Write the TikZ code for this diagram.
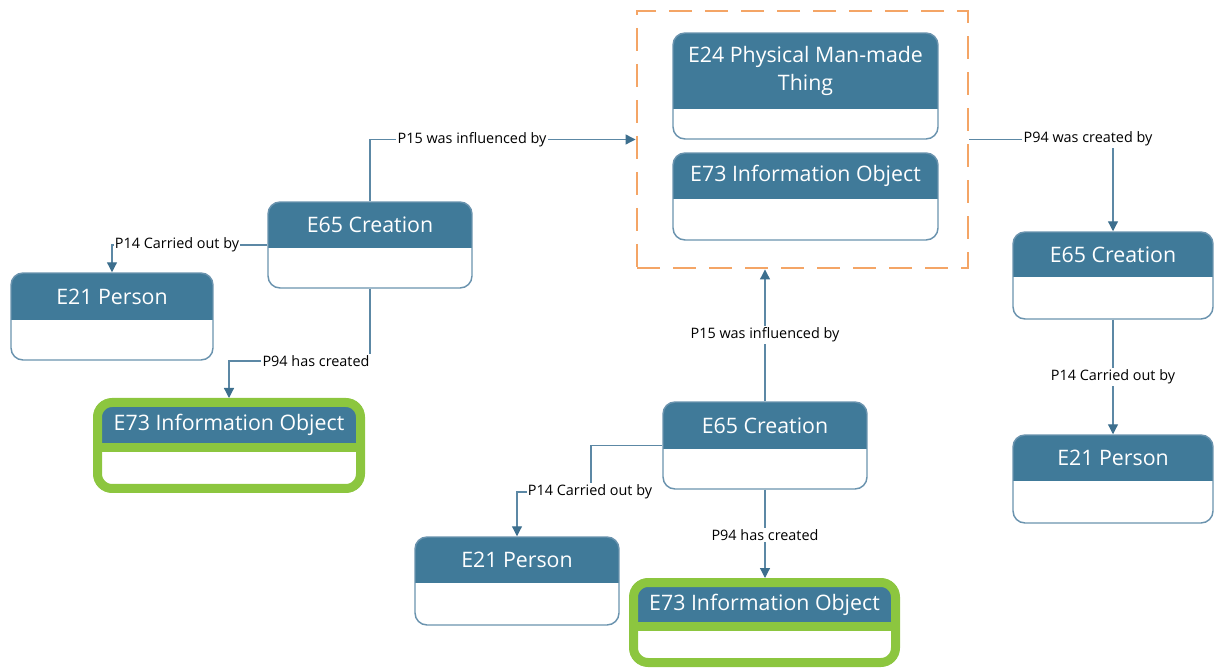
\documentclass[tikz,border=0pt]{standalone}
\usepackage{fontspec}
\setmainfont{Open Sans}
\usetikzlibrary{arrows.meta,fit}

\definecolor{hdr}{HTML}{407A99}
\definecolor{framec}{HTML}{6A93AE}
\definecolor{connc}{HTML}{5C88A5}
\definecolor{arrowc}{HTML}{3D6F8E}
\definecolor{grn}{HTML}{8CC63F}
\definecolor{grpc}{HTML}{F4A566}

\tikzset{
  entframe/.style={draw=framec, line width=1.1pt, rounded corners=9pt, inner sep=0pt},
  greenframe/.style={draw=grn, line width=6.75pt, rounded corners=11pt, inner sep=0pt},
  enttext/.style={text=white, align=center, inner sep=0pt,
    font=\fontsize{16pt}{21.5pt}\selectfont},
  grpframe/.style={draw=grpc, line width=2.2pt, dash pattern=on 17pt off 10pt, inner sep=0pt},
  conn/.style={draw=connc, line width=0.9pt,
    -{Triangle[length=7.5pt,width=7.5pt,color=arrowc]}},
  lbl/.style={fill=white, text=black, inner sep=1pt,
    font=\fontsize{10.8pt}{13pt}\selectfont}
}

% entity box: name, left, top, right, bottom, header bottom, title
\newcommand\entity[7]{%
  \begin{scope}
    \clip[rounded corners=9pt] (#2,#3) rectangle (#4,#5);
    \fill[hdr] (#2,#3) rectangle (#4,#6);
  \end{scope}
  \node[entframe, fit={(#2,#3) (#4,#5)}] (#1) {};
  \node[enttext] (#1-t) at ({(#2+#4)/2},{(#3+#6)/2}) {#7};
}

% highlighted entity box with a thick green frame (outer edges given)
\newcommand\infobox[7]{%
  \fill[hdr] ({#2+9},{#3+9}) rectangle ({#4-9},#6);
  \fill[grn] ({#2+4.5},#6) rectangle ({#4-4.5},{#6+9});
  \node[greenframe, fit={({#2+4.5},{#3+4.5}) ({#4-4.5},{#5-4.5})}] (#1) {};
  \node[enttext] (#1-t) at ({(#2+#4)/2},{(#3+9+#6)/2}) {#7};
}

\begin{document}
\begin{tikzpicture}[x=0.75pt,y=-0.75pt]
  \useasboundingbox (0,0) rectangle (1215,670);

  % group of influenced entities
  \node[grpframe, fit={(637,11) (968,268)}] (grp) {};
  \entity{e24}{673}{33}{938}{139}{109}{E24 Physical Man-made\\Thing}
  \entity{io0}{673}{153}{938}{240}{199}{E73 Information Object}

  % left creation event
  \entity{c1}{268}{202}{472}{288}{248}{E65 Creation}
  \entity{p1}{11}{273}{213}{360}{320}{E21 Person}
  \infobox{io1}{93}{398}{365}{493}{443}{E73 Information Object}

  % central creation event
  \entity{c2}{663}{402}{867}{489}{449}{E65 Creation}
  \entity{p2}{415}{537}{619}{625}{583}{E21 Person}
  \infobox{io2}{629}{578}{900}{667}{622}{E73 Information Object}

  % right creation event
  \entity{c3}{1013}{232}{1213}{319}{277}{E65 Creation}
  \entity{p3}{1013}{435}{1213}{523}{481}{E21 Person}

  % connectors
  \draw[conn] (c1.north) |- (grp.west);
  \node[lbl] at (472,140) {P15 was influenced by};

  \draw[conn] (c1.west) -| (p1.north);
  \node[lbl] at (177,245) {P14 Carried out by};

  \draw[conn] (c1.south) -- (c1.south |- 0,361) -| (io1.north);
  \node[lbl] at (316,361) {P94 has created};

  \draw[conn] (c2.north) -- (c2.north |- grp.south);
  \node[lbl] at (765,335) {P15 was influenced by};

  \coordinate (k2) at (591,492);
  \draw[conn] (c2.west) -| (k2) -| (p2.north);
  \node[lbl] at (590,492) {P14 Carried out by};

  \draw[conn] (c2.south) -- (c2.south |- io2.north);
  \node[lbl] at (765,535) {P94 has created};

  \draw[conn] (grp.east) -| (c3.north);
  \node[lbl] at (1088,139) {P94 was created by};

  \draw[conn] (c3.south) -- (p3.north);
  \node[lbl] at (1113,377) {P14 Carried out by};
\end{tikzpicture}
\end{document}
